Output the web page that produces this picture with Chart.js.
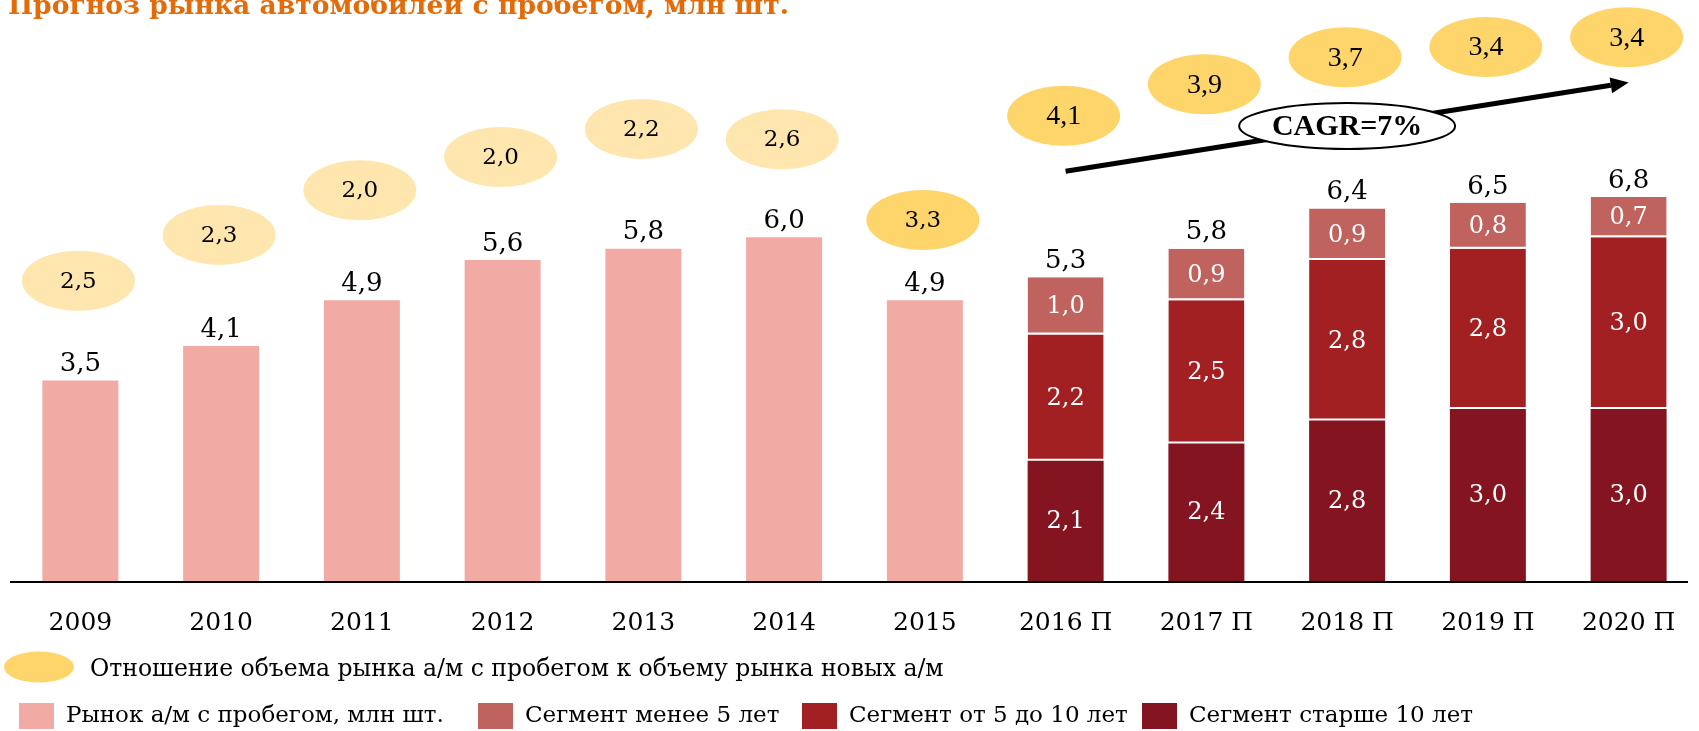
<!DOCTYPE html>
<html>
<head>
<meta charset="utf-8">
<script src="https://cdn.jsdelivr.net/npm/chart.js@4.4.1/dist/chart.umd.min.js"></script>
<style>
  html, body { margin: 0; padding: 0; background: #fff; }
  #chart { display: block; }
</style>
</head>
<body>
<canvas id="chart" width="1699" height="731"></canvas>
<script>
// data
const years = ["2009", "2010", "2011", "2012", "2013", "2014", "2015", "2016 П", "2017 П", "2018 П", "2019 П", "2020 П"];
const market = [3.5, 4.1, 4.9, 5.6, 5.8, 6.0, 4.9, null, null, null, null, null];
const over10 = [null, null, null, null, null, null, null, 2.1, 2.4, 2.8, 3.0, 3.0];
const from5to10 = [null, null, null, null, null, null, null, 2.2, 2.5, 2.8, 2.8, 3.0];
const under5 = [null, null, null, null, null, null, null, 1.0, 0.9, 0.9, 0.8, 0.7];
const forecastTotal = [null, null, null, null, null, null, null, 5.3, 5.8, 6.4, 6.5, 6.8];
const ratio = [2.5, 2.3, 2.0, 2.0, 2.2, 2.6, 3.3, 4.1, 3.9, 3.7, 3.4, 3.4];
const cagrText = "CAGR=7%";

// layout: vertical level (in axis units) of the ratio ovals and the trend arrow
const ovalLevel = [5.24, 6.04, 6.82, 7.40, 7.89, 7.71, 6.30, 8.12, 8.67, 9.14, 9.32, 9.49];
const arrowFrom = [7, 7.15], arrowTo = [11, 8.7], cagrAt = [9, 7.94];

const SERIF = '"DejaVu Serif", Georgia, serif';
const TIMES = '"Liberation Serif", "Times New Roman", serif';
const fmt = v => v.toFixed(1).replace('.', ',');

const colors = {
  market: '#F2AAA5', under5: '#C0635F', mid: '#A21F22', over10: '#841520',
  ovalLight: '#FEE6AE', ovalStrong: '#FED56A', title: '#E36C0A'
};

function ellipse(ctx, cx, cy, rx, ry) {
  ctx.beginPath();
  ctx.ellipse(cx, cy, rx, ry, 0, 0, Math.PI * 2);
}

const overlay = {
  id: 'overlay',
  afterDatasetsDraw(chart) {
    const ctx = chart.ctx;
    const xs = chart.scales.x, ys = chart.scales.y;
    const area = chart.chartArea;
    ctx.save();

    // baseline
    ctx.strokeStyle = '#000';
    ctx.lineWidth = 2;
    ctx.beginPath();
    ctx.moveTo(area.left, area.bottom + 1);
    ctx.lineTo(area.right - 11, area.bottom + 1);
    ctx.stroke();

    ctx.textAlign = 'center';
    ctx.textBaseline = 'middle';

    // values inside the forecast segments
    [1, 2, 3].forEach(di => {
      const meta = chart.getDatasetMeta(di);
      const data = chart.data.datasets[di].data;
      meta.data.forEach((bar, i) => {
        if (data[i] == null) return;
        ctx.fillStyle = '#fff';
        ctx.font = '24px ' + SERIF;
        ctx.fillText(fmt(data[i]), bar.x, (bar.y + bar.base) / 2 + 1);
      });
    });

    // totals above bars
    years.forEach((_, i) => {
      let top = Infinity, bx = xs.getPixelForValue(i);
      chart.data.datasets.forEach((ds, di) => {
        if (ds.data[i] == null) return;
        top = Math.min(top, chart.getDatasetMeta(di).data[i].y);
      });
      const total = market[i] != null ? market[i] : forecastTotal[i];
      ctx.fillStyle = '#000';
      ctx.font = '26px ' + SERIF;
      ctx.fillText(fmt(total), bx, top - 16);
    });

    // ratio ovals
    ratio.forEach((r, i) => {
      const cx = xs.getPixelForValue(i) - 2, cy = ys.getPixelForValue(ovalLevel[i]);
      ellipse(ctx, cx, cy, 56.5, 30);
      ctx.fillStyle = i < 6 ? colors.ovalLight : colors.ovalStrong;
      ctx.fill();
      ctx.fillStyle = '#000';
      ctx.font = i < 7 ? '23px ' + SERIF : '28px ' + TIMES;
      ctx.fillText(fmt(r), cx, cy + 1);
    });

    // trend arrow
    const x1 = xs.getPixelForValue(arrowFrom[0]), y1 = ys.getPixelForValue(arrowFrom[1]);
    const x2 = xs.getPixelForValue(arrowTo[0]), y2 = ys.getPixelForValue(arrowTo[1]);
    const ang = Math.atan2(y2 - y1, x2 - x1);
    const head = 18;
    ctx.strokeStyle = '#000';
    ctx.lineWidth = 5;
    ctx.beginPath();
    ctx.moveTo(x1, y1);
    ctx.lineTo(x2 - head * Math.cos(ang), y2 - head * Math.sin(ang));
    ctx.stroke();
    ctx.fillStyle = '#000';
    ctx.beginPath();
    ctx.moveTo(x2, y2);
    ctx.lineTo(x2 - head * Math.cos(ang) + 8 * Math.sin(ang), y2 - head * Math.sin(ang) - 8 * Math.cos(ang));
    ctx.lineTo(x2 - head * Math.cos(ang) - 8 * Math.sin(ang), y2 - head * Math.sin(ang) + 8 * Math.cos(ang));
    ctx.closePath();
    ctx.fill();

    // CAGR badge
    const gx = xs.getPixelForValue(cagrAt[0]), gy = ys.getPixelForValue(cagrAt[1]);
    ellipse(ctx, gx, gy, 108, 23);
    ctx.fillStyle = '#fff';
    ctx.fill();
    ctx.lineWidth = 2;
    ctx.stroke();
    ctx.fillStyle = '#000';
    ctx.font = 'bold 30px ' + TIMES;
    ctx.fillText(cagrText, gx, gy + 1);
    ctx.restore();
  },
  afterDraw(chart) {
    const ctx = chart.ctx;
    ctx.save();
    // title
    ctx.fillStyle = colors.title;
    ctx.font = 'bold 26.6px ' + SERIF;
    ctx.textBaseline = 'alphabetic';
    ctx.fillText("Прогноз рынка автомобилей с пробегом, млн шт.", 8, 14);

    // legend
    ctx.textBaseline = 'middle';
    ctx.font = '23.5px ' + SERIF;
    ellipse(ctx, 39, 667, 35, 15.5);
    ctx.fillStyle = colors.ovalStrong;
    ctx.fill();
    ctx.fillStyle = '#000';
    ctx.fillText("Отношение объема рынка а/м с пробегом к объему рынка новых а/м", 90, 670);

    ctx.font = '23px ' + SERIF;
    const items = [
      [colors.market, "Рынок а/м с пробегом, млн шт.", 19],
      [colors.under5, "Сегмент менее 5 лет", 478],
      [colors.mid, "Сегмент от 5 до 10 лет", 802],
      [colors.over10, "Сегмент старше 10 лет", 1142]
    ];
    items.forEach(([c, t, x]) => {
      ctx.fillStyle = c;
      ctx.fillRect(x, 703, 35, 26);
      ctx.fillStyle = '#000';
      ctx.fillText(t, x + 47, 716);
    });
    ctx.restore();
  }
};

const segBorder = { top: 0, right: 0, bottom: 2, left: 0 };

new Chart(document.getElementById("chart"), {
  type: "bar",
  data: {
    labels: years,
    datasets: [{
      label: "Рынок а/м с пробегом, млн шт.",
      data: market,
      backgroundColor: colors.market
    }, {
      label: "Сегмент старше 10 лет",
      data: over10,
      backgroundColor: colors.over10
    }, {
      label: "Сегмент от 5 до 10 лет",
      data: from5to10,
      backgroundColor: colors.mid,
      borderColor: '#fff',
      borderWidth: segBorder,
      borderSkipped: false
    }, {
      label: "Сегмент менее 5 лет",
      data: under5,
      backgroundColor: colors.under5,
      borderColor: '#fff',
      borderWidth: segBorder,
      borderSkipped: false
    }]
  },
  options: {
    responsive: false,
    animation: false,
    barPercentage: 0.54,
    categoryPercentage: 1,
    layout: {
      padding: { top: 8, left: 10, right: -2, bottom: 90 }
    },
    plugins: {
      legend: { display: false },
      tooltip: { enabled: false }
    },
    scales: {
      x: {
        stacked: true,
        grid: { display: false },
        border: { display: false },
        ticks: {
          color: '#000',
          padding: 19,
          font: { family: SERIF, size: 25 }
        },
        afterFit(scale) { scale.height = 60; }
      },
      y: {
        stacked: true,
        display: false,
        min: 0,
        max: 10
      }
    }
  },
  plugins: [overlay]
});
</script>
</body>
</html>
